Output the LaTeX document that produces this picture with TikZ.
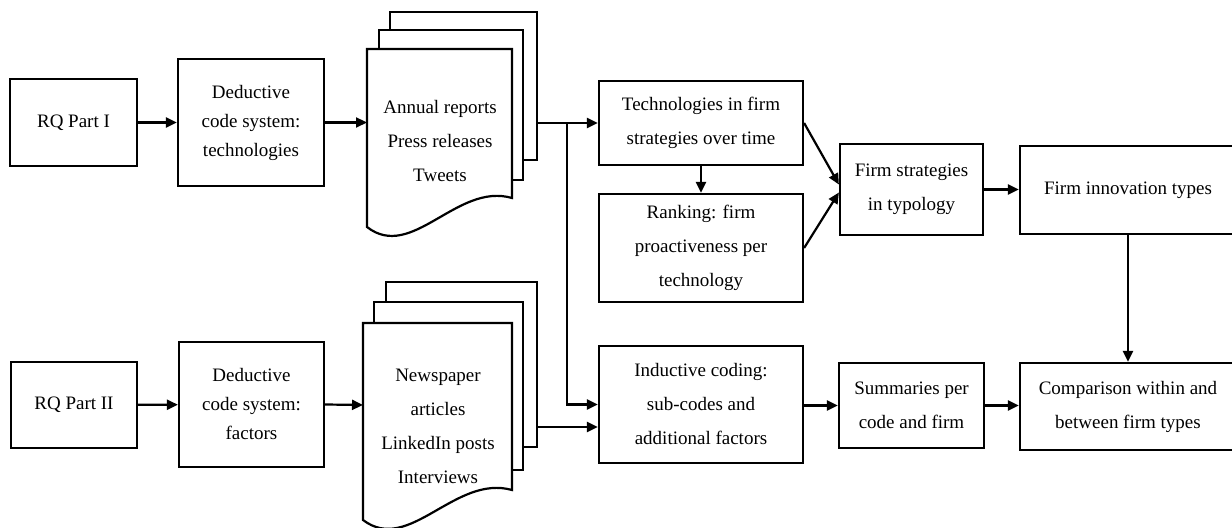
\documentclass[tikz,border=0pt]{standalone}
\usepackage{fontspec}
\setmainfont{Liberation Serif}
\usetikzlibrary{arrows.meta,calc}
\begin{document}
\begin{tikzpicture}[x=0.5pt,y=-0.5pt,
  line width=1.1pt,
  box/.style={draw,fill=white,align=center,inner sep=0pt,
    font=\fontsize{9.5}{17}\selectfont},
  tight/.style={font=\fontsize{9.5}{14.5}\selectfont},
  page/.style={draw,fill=white},
  txt/.style={align=center,inner sep=0pt,font=\fontsize{9.5}{17}\selectfont},
  arr/.style={-{Triangle[length=5.5pt,width=5pt]}}]
\useasboundingbox (0,0) rectangle (1232,528);

% ---- research question boxes and deductive code systems
\node[box,minimum width=63.5pt,minimum height=43.5pt] (rq1) at (73.5,122.5) {RQ Part I};
\node[box,tight,minimum width=73pt,minimum height=63.5pt] (ded1) at (251,122.5)
  {Deductive\\code system:\\technologies};
\node[box,minimum width=63pt,minimum height=43pt] (rq2) at (74,405) {RQ Part II};
\node[box,tight,minimum width=72.5pt,minimum height=62.5pt] (ded2) at (251.5,404.5)
  {Deductive\\code system:\\factors};

% ---- first stack of documents
\draw[page] (390,12) rectangle (537,160);
\draw[page] (379,30) rectangle (523,180);
\draw[page] (367,49) -- (512,49) -- (512,198)
  .. controls (457,182) and (412,262) .. (367,227) -- cycle;
\node[txt] (doc1) at (440,141) {Annual reports\\Press releases\\Tweets};
\coordinate (doc1in) at (367,122.5);
\coordinate (doc1out) at (537,123);
\coordinate (split) at (567,123);

% ---- second stack of documents
\draw[page] (386,282) rectangle (537,447);
\draw[page] (374,302) rectangle (523,470);
\draw[page] (363,323) -- (512,323) -- (512,490)
  .. controls (455,474) and (409,555) .. (363,520) -- cycle;
\node[txt] (doc2) at (438,426) {Newspaper\\articles\\LinkedIn posts\\Interviews};
\coordinate (doc2in) at (363,405);
\coordinate (doc2out) at (537,427);

% ---- analysis steps
\node[box,minimum width=102pt,minimum height=42pt] (tech) at (701,123)
  {Technologies in firm\\strategies over time};
\node[box,minimum width=102pt,minimum height=54pt] (rank) at (701,248)
  {Ranking: firm\\proactiveness per\\technology};
\node[box,minimum width=71.5pt,minimum height=45.5pt] (strat) at (911.5,189.5)
  {Firm strategies\\in typology};
\node[box,minimum width=108pt,minimum height=44pt] (innov) at (1128,190)
  {Firm innovation types};
\node[box,minimum width=102pt,minimum height=58.5pt] (induct) at (701,404.5)
  {Inductive coding:\\sub-codes and\\additional factors};
\node[box,minimum width=72.5pt,minimum height=42.5pt] (summ) at (911.5,405.5)
  {Summaries per\\code and firm};
\node[box,minimum width=108pt,minimum height=43.5pt] (comp) at (1128,406.5)
  {Comparison within and\\between firm types};

% ---- connectors
\draw[arr] (rq1) -- (ded1);
\draw[arr] (ded1.east) -- (doc1in);
\draw[arr] (rq2) -- (ded2);
\draw[arr] (ded2.east) -- (doc2in);
\draw[arr] (doc1out) -- (tech.west);
\draw[arr] (split) |- (induct.west);
\draw[arr] (doc2out) -- (induct.west |- doc2out);
\draw[arr] (tech) -- (rank);
\draw[arr] (tech.east) -- ($(strat.west)+(0,-5)$);
\draw[arr] (rank.east) -- ($(strat.west)+(0,3)$);
\draw[arr] (strat) -- (strat.east -| innov.west);
\draw[arr] (innov) -- (comp);
\draw[arr] (induct.east |- summ) -- (summ);
\draw[arr] (summ) -- (comp.west |- summ);
\end{tikzpicture}
\end{document}
